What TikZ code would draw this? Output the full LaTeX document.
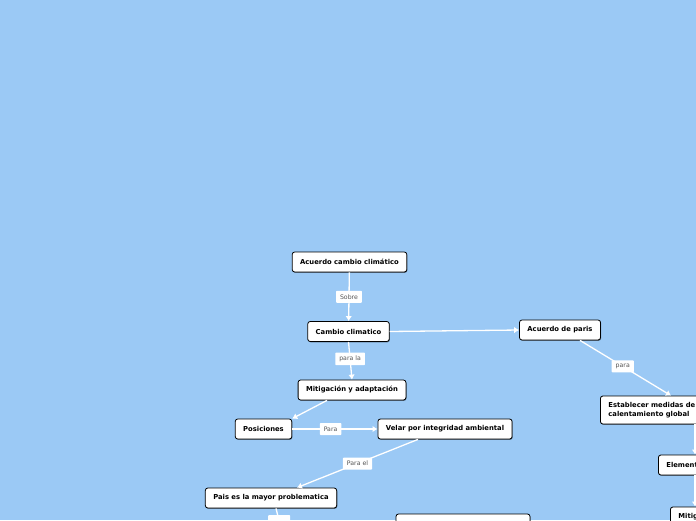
\documentclass[tikz,border=0pt]{standalone}
\usepackage{fontspec}
\setmainfont{DejaVu Sans}
\usetikzlibrary{arrows.meta,shadows}
\definecolor{bg}{HTML}{9BC9F5}
\definecolor{lbl}{HTML}{555555}
\tikzset{
  topic/.style={draw=black, line width=0.8pt, fill=white, rounded corners=2.5pt,
    font=\fontsize{6.8}{8.2}\selectfont\bfseries, minimum height=20pt, inner xsep=8pt,
    drop shadow={shadow xshift=0.6pt, shadow yshift=-0.8pt, opacity=0.45, fill=black}},
  lab/.style={fill=white, font=\fontsize{6.2}{7}\selectfont, text=lbl, inner xsep=4pt,
    minimum height=12pt, rounded corners=0.8pt},
  conn/.style={draw=white, line width=1.3pt, -{Latex[length=5pt,width=6.5pt]}},
  plain/.style={draw=white, line width=1.3pt}
}
\begin{document}
\begin{tikzpicture}[x=1pt,y=-1pt]
\fill[bg] (0,0) rectangle (696,520);
\useasboundingbox (0,0) rectangle (696,520);
\clip (0,0) rectangle (696,520);

\node[topic] (acc) at (349.5,262) {Acuerdo cambio climático};
\node[topic] (cc) at (348.5,331.5) {Cambio climatico};
\node[topic] (mit) at (352,390) {Mitigación y adaptación};
\node[topic] (pos) at (263.5,429) {Posiciones};
\node[topic] (vel) at (445,429) {Velar por integridad ambiental};
\node[topic] (pais) at (271,498) {Pais es la mayor problematica};
\node[topic, minimum width=134pt] (bot) at (463,524) {};
\node[topic] (par) at (560,330) {Acuerdo de paris};
\node[topic, anchor=west, minimum height=28pt, align=left] (est) at (600,410)
  {Establecer medidas de reducción del\\calentamiento global};
\node[topic, anchor=west] (ele) at (658,465) {Elementos};
\node[topic, anchor=west] (mtg) at (670,517) {Mitigación};
\coordinate (pend) at (284,540);

\draw[conn] (acc) -- node[lab] {Sobre} (cc);
\draw[conn] (cc.south) -- node[lab, pos=0.45] {para la} (mit.north);
\draw[conn] (cc.east) -- (par.west);
\draw[conn] (mit.south -| 327,0) -- (pos.north east);
\draw[conn] (pos) -- node[lab, pos=0.45] {Para} (vel);
\draw[conn] (vel.south -| 418,0) -- node[lab, pos=0.5] {Para el} (pais.north -| 297,0);
\draw[conn] (par.south -| 580,0) -- node[lab, pos=0.47] {para} (est.north -| 671,0);
\draw[conn] (est.south -| 695,0) -- (ele.north -| 695,0);
\draw[conn] (ele.south -| 695,0) -- (mtg.north -| 695,0);
\draw[plain] (pais.south -| 276,0) -- node[lab, pos=0.4] {\phantom{para}} (pend);
\end{tikzpicture}
\end{document}
